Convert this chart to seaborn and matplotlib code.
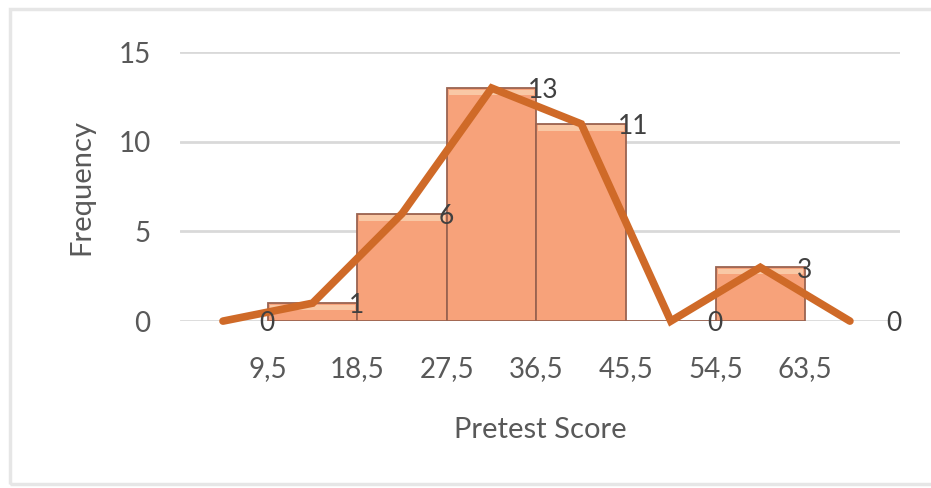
import numpy as np
import pandas as pd
import matplotlib
matplotlib.use("Agg")
import matplotlib.pyplot as plt
import seaborn as sns
from matplotlib.patches import Rectangle

# Datos del histograma (limites de clase y frecuencias)
bin_edges = [9.5, 18.5, 27.5, 36.5, 45.5, 54.5, 63.5]
bar_freq = [1, 6, 13, 11, 0, 3]

# Poligono de frecuencias (puntos medios)
poly_x = [5, 14, 23, 32, 41, 50, 59, 68]
poly_freq = [0, 1, 6, 13, 11, 0, 3, 0]

tick_labels = ["9,5", "18,5", "27,5", "36,5", "45,5", "54,5", "63,5"]

sns.set_theme(style="white")
plt.rcParams['font.family'] = ['Lato', 'DejaVu Sans']

grey = "#595959"
bar_color = "#F7A27A"
line_color = "#CF6A28"

fig = plt.figure(figsize=(9.31, 4.88), dpi=100)
ax = fig.add_axes([0.193, 0.342, 0.774, 0.551])

# Marco exterior
fig.patches.append(Rectangle((0.011, 0.008), 0.995, 0.973, transform=fig.transFigure,
                             fill=False, edgecolor="#E6E6E6", linewidth=2.5))

# Barras
bar_mids = [(a + b) / 2 for a, b in zip(bin_edges[:-1], bin_edges[1:])]
df_bars = pd.DataFrame({"score": bar_mids, "freq": bar_freq})
sns.histplot(data=df_bars, x="score", weights="freq", bins=bin_edges, ax=ax,
             color=bar_color, alpha=1, edgecolor="#9A6350", linewidth=1.3, zorder=2)

# Brillo superior de cada barra (efecto bisel)
for p in ax.patches:
    h = p.get_height()
    if h > 0:
        ax.add_patch(Rectangle((p.get_x() + 0.2, h - 0.4), p.get_width() - 0.4, 0.32,
                               facecolor="#FCE3C2", edgecolor="none", alpha=0.6, zorder=2.5))

# Poligono
df_poly = pd.DataFrame({"score": poly_x, "freq": poly_freq})
sns.lineplot(data=df_poly, x="score", y="freq", ax=ax, color=line_color,
             linewidth=5.5, solid_joinstyle="miter", zorder=3, clip_on=False)

# Etiquetas de datos
for x, v in zip(poly_x, poly_freq):
    ax.annotate(str(v), (x + 4.5, v), xytext=(-6, -2), textcoords="offset points",
                ha="left", va="center", fontsize=19, color="#404040", zorder=4,
                annotation_clip=False)

ax.set_xlim(0.65, 73.06)
ax.set_ylim(0, 15)
ax.set_yticks([0, 5, 10, 15])
ax.set_xticks(bin_edges)
ax.set_xticklabels(tick_labels)
ax.yaxis.grid(True, color="#D9D9D9", linewidth=2)
ax.set_axisbelow(True)
for s in ax.spines.values():
    s.set_visible(False)
ax.tick_params(axis="both", length=0, labelsize=20, labelcolor=grey)
ax.tick_params(axis="x", pad=25)
ax.tick_params(axis="y", pad=21)
ax.set_xlabel("Pretest Score", fontsize=21, color=grey, labelpad=25)
ax.set_ylabel("Frequency", fontsize=21, color=grey, labelpad=17)

fig.savefig("out.png", dpi=100)
